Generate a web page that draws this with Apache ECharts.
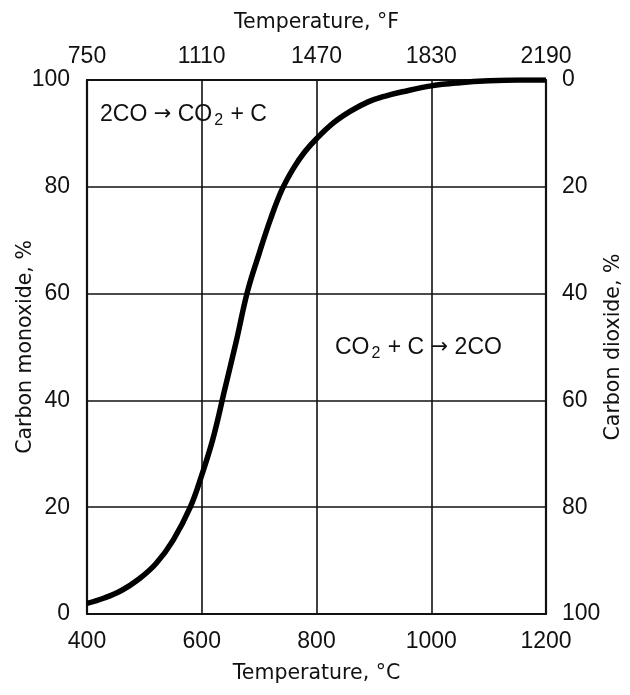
<!DOCTYPE html>
<html>
<head>
<meta charset="utf-8">
<script src="https://cdn.jsdelivr.net/npm/echarts@6/dist/echarts.min.js"></script>
<style>html,body{margin:0;padding:0;background:#fff}#c{width:630px;height:695px}</style>
</head>
<body>
<div id="c"></div>
<script>
// Data
var tempC = [400,430,460,490,520,550,580,600,620,640,660,680,700,720,740,760,780,800,830,860,890,920,950,1000,1050,1100,1150,1200];
var carbonMonoxide = [2.0,3.0,4.4,6.5,9.4,13.8,20,26,33,42,51,60.5,67.5,74,79.5,83.5,86.6,89.0,92,94.2,95.9,97,97.8,98.9,99.5,99.85,100,100];
var cTicks = [400,600,800,1000,1200];
var fTickLabels = ['750','1110','1470','1830','2190'];

var FONT = 'Liberation Sans, Arial, sans-serif';
var chart = echarts.init(document.getElementById('c'));
var labelStyle = {color:'#111', fontSize:23, fontFamily:FONT};
var nameStyle = {color:'#111', fontSize:20.5, fontFamily:'DejaVu Sans, sans-serif'};
var lineS = {lineStyle:{color:'#111', width:2.2}};
var rich = {
  a:{fontSize:23, fontFamily:FONT, fill:'#111', lineHeight:30, verticalAlign:'middle'},
  s:{fontSize:16, fontFamily:FONT, fill:'#111', lineHeight:30, padding:[13,1,0,2]},
  r:{fontSize:21, fontFamily:'DejaVu Sans, sans-serif', fill:'#111', lineHeight:30, verticalAlign:'middle'}
};
var option = {
  animation:false,
  backgroundColor:'#fff',
  grid:{left:87, right:84, top:80, bottom:81, containLabel:false, outerBoundsMode:'none'},
  xAxis:[{
    type:'value', min:400, max:1200, interval:200, position:'bottom',
    name:'Temperature, °C', nameLocation:'middle', nameGap:49, nameTextStyle:nameStyle,
    axisLine:lineS, axisTick:{show:false},
    axisLabel:Object.assign({margin:16, formatter:function(v){return String(v);}}, labelStyle),
    splitLine:{show:true, lineStyle:{color:'#111', width:1.6}}
  },{
    type:'value', min:400, max:1200, interval:200, position:'top',
    name:'Temperature, °F', nameLocation:'middle', nameGap:47, nameTextStyle:nameStyle,
    axisLine:lineS, axisTick:{show:false},
    axisLabel:Object.assign({margin:12, formatter:function(v){var i=cTicks.indexOf(v);return i>=0?fTickLabels[i]:'';}}, labelStyle),
    splitLine:{show:false}
  }],
  yAxis:[{
    type:'value', min:0, max:100, interval:20, position:'left',
    name:'Carbon monoxide, %', nameLocation:'middle', nameGap:51, nameRotate:90, nameTextStyle:nameStyle,
    nameMoveOverlap:false,
    axisLine:lineS, axisTick:{show:false},
    axisLabel:Object.assign({margin:17}, labelStyle),
    splitLine:{show:true, lineStyle:{color:'#111', width:1.6}}
  },{
    type:'value', min:0, max:100, interval:20, position:'right', inverse:true,
    name:'Carbon dioxide, %', nameLocation:'middle', nameGap:57, nameRotate:90, nameTextStyle:nameStyle,
    nameMoveOverlap:false,
    axisLine:lineS, axisTick:{show:false},
    axisLabel:Object.assign({margin:16}, labelStyle),
    splitLine:{show:false}
  }],
  series:[{
    type:'line', xAxisIndex:0, yAxisIndex:0, smooth:0.4, symbol:'none',
    data:tempC.map(function(t,i){return [t, carbonMonoxide[i]];}),
    lineStyle:{color:'#000', width:5.5}
  }],
  graphic:[
    {type:'text', left:100, top:100, style:{rich:rich, text:'{a|2CO }{r|→}{a| CO}{s|2}{a| + C}'}},
    {type:'text', left:335, top:333, style:{rich:rich, text:'{a|CO}{s|2}{a| + C }{r|→}{a| 2CO}'}}
  ]
};
chart.setOption(option);
</script>
</body>
</html>
